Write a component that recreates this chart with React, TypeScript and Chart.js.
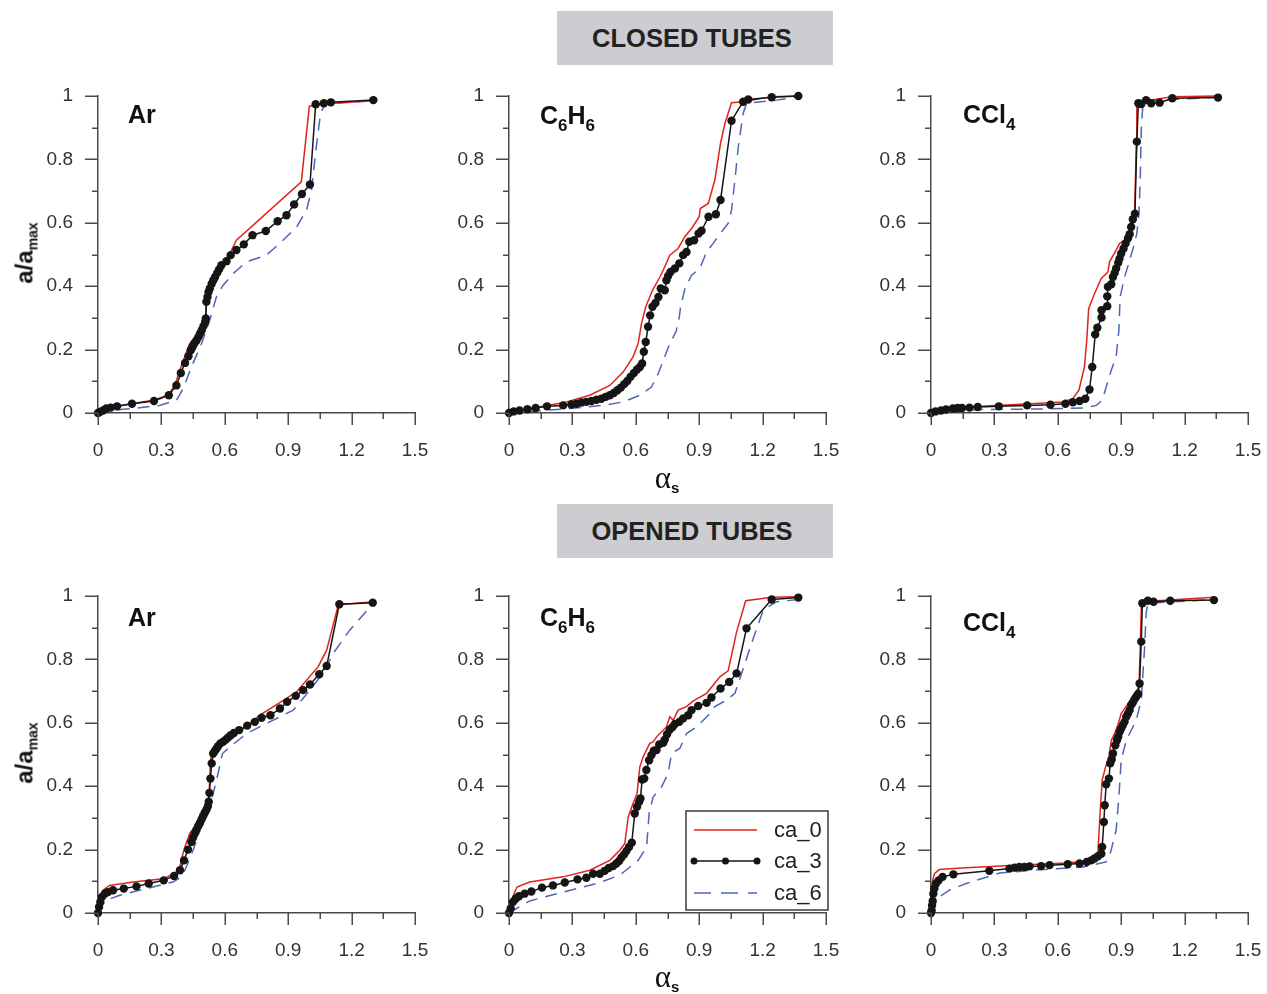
import React, { useEffect, useRef } from "react";
import { Chart, registerables } from "chart.js";
Chart.register(...registerables);

type Pt = [number, number];

// ---------- tick labels / names ----------
const xTickLabels = ["0", "0.3", "0.6", "0.9", "1.2", "1.5"];
const yTickLabels = ["0", "0.2", "0.4", "0.6", "0.8", "1"];
const seriesNames = ["ca_0", "ca_3", "ca_6"];

// ---------- CLOSED TUBES: Ar ----------
const closedAr_ca0: Pt[] = [[0,0],[0.024,0.014],[0.087,0.021],[0.26,0.04],[0.332,0.056],[0.363,0.087],[0.395,0.15],[0.434,0.219],[0.466,0.245],[0.5,0.282],[0.508,0.3],[0.513,0.345],[0.53,0.39],[0.555,0.43],[0.584,0.468],[0.624,0.503],[0.655,0.545],[0.962,0.729],[1.0,0.968],[1.113,0.977],[1.303,0.985]];
const closedAr_ca3: Pt[] = [[0,0],[0.008,0.003],[0.024,0.008],[0.039,0.014],[0.06,0.017],[0.09,0.021],[0.161,0.029],[0.265,0.038],[0.335,0.056],[0.371,0.087],[0.392,0.126],[0.412,0.158],[0.428,0.179],[0.439,0.198],[0.447,0.208],[0.456,0.219],[0.466,0.229],[0.475,0.24],[0.483,0.251],[0.491,0.261],[0.499,0.274],[0.507,0.287],[0.51,0.298],[0.513,0.351],[0.518,0.366],[0.523,0.382],[0.529,0.393],[0.538,0.408],[0.546,0.419],[0.554,0.429],[0.564,0.442],[0.573,0.453],[0.584,0.466],[0.608,0.479],[0.628,0.498],[0.655,0.514],[0.69,0.532],[0.731,0.561],[0.794,0.574],[0.85,0.605],[0.892,0.624],[0.928,0.658],[0.965,0.691],[1.003,0.721],[1.03,0.974],[1.069,0.977],[1.102,0.98],[1.303,0.987]];
const closedAr_ca6: Pt[] = [[0,0],[0.055,0.008],[0.166,0.014],[0.292,0.024],[0.371,0.04],[0.403,0.077],[0.442,0.145],[0.49,0.219],[0.529,0.293],[0.56,0.366],[0.592,0.403],[0.64,0.44],[0.703,0.477],[0.797,0.498],[0.86,0.535],[0.94,0.587],[0.987,0.64],[1.01,0.703],[1.031,0.829],[1.053,0.945],[1.074,0.975],[1.303,0.985]];

// ---------- CLOSED TUBES: C6H6 ----------
const closedC6H6_ca0: Pt[] = [[0,0],[0.098,0.014],[0.256,0.032],[0.382,0.056],[0.477,0.087],[0.54,0.129],[0.587,0.177],[0.611,0.219],[0.627,0.282],[0.647,0.335],[0.679,0.387],[0.714,0.429],[0.73,0.451],[0.761,0.498],[0.8,0.519],[0.832,0.556],[0.864,0.582],[0.9,0.619],[0.905,0.645],[0.943,0.661],[0.974,0.735],[1.001,0.851],[1.022,0.914],[1.053,0.979],[1.108,0.982],[1.243,0.998],[1.369,1.0]];
const closedC6H6_ca3: Pt[] = [[0,0],[0.022,0.005],[0.05,0.008],[0.087,0.012],[0.126,0.016],[0.18,0.021],[0.256,0.024],[0.295,0.027],[0.319,0.029],[0.343,0.033],[0.366,0.035],[0.39,0.038],[0.414,0.042],[0.437,0.045],[0.458,0.051],[0.477,0.056],[0.496,0.063],[0.513,0.072],[0.529,0.08],[0.545,0.091],[0.56,0.101],[0.575,0.114],[0.591,0.126],[0.606,0.137],[0.619,0.145],[0.63,0.156],[0.638,0.193],[0.647,0.224],[0.658,0.272],[0.668,0.308],[0.679,0.335],[0.693,0.347],[0.707,0.366],[0.718,0.393],[0.737,0.387],[0.745,0.419],[0.753,0.432],[0.764,0.445],[0.785,0.456],[0.806,0.472],[0.824,0.498],[0.84,0.508],[0.853,0.54],[0.876,0.545],[0.897,0.566],[0.911,0.575],[0.944,0.619],[0.979,0.627],[1.001,0.672],[1.053,0.922],[1.108,0.982],[1.132,0.989],[1.243,0.996],[1.369,1.0]];
const closedC6H6_ca6: Pt[] = [[0,0],[0.098,0.005],[0.287,0.014],[0.445,0.024],[0.54,0.035],[0.619,0.056],[0.674,0.082],[0.706,0.124],[0.73,0.166],[0.761,0.219],[0.79,0.256],[0.806,0.303],[0.812,0.335],[0.833,0.393],[0.864,0.435],[0.903,0.456],[0.935,0.508],[0.966,0.535],[1.006,0.572],[1.037,0.598],[1.053,0.64],[1.069,0.735],[1.085,0.84],[1.108,0.945],[1.124,0.977],[1.266,0.987],[1.369,0.998]];

// ---------- CLOSED TUBES: CCl4 ----------
const closedCCl4_ca0: Pt[] = [[0,0],[0.166,0.019],[0.403,0.027],[0.624,0.035],[0.671,0.045],[0.7,0.072],[0.726,0.145],[0.737,0.229],[0.746,0.329],[0.774,0.377],[0.805,0.424],[0.837,0.445],[0.845,0.477],[0.876,0.514],[0.892,0.535],[0.916,0.545],[0.94,0.566],[0.963,0.608],[0.971,0.84],[0.974,0.985],[1.034,0.987],[1.142,0.998],[1.358,1.0]];
const closedCCl4_ca3: Pt[] = [[0,0],[0.021,0.005],[0.047,0.008],[0.071,0.011],[0.103,0.014],[0.126,0.016],[0.147,0.016],[0.182,0.017],[0.221,0.019],[0.321,0.021],[0.455,0.024],[0.565,0.026],[0.636,0.029],[0.671,0.034],[0.703,0.038],[0.73,0.045],[0.75,0.074],[0.763,0.145],[0.777,0.248],[0.787,0.269],[0.807,0.301],[0.807,0.324],[0.834,0.337],[0.834,0.368],[0.837,0.398],[0.853,0.406],[0.861,0.429],[0.869,0.442],[0.876,0.456],[0.886,0.474],[0.892,0.487],[0.9,0.503],[0.911,0.519],[0.921,0.535],[0.932,0.551],[0.94,0.564],[0.947,0.587],[0.955,0.611],[0.965,0.629],[0.974,0.856],[0.981,0.977],[0.995,0.975],[1.018,0.987],[1.042,0.977],[1.082,0.979],[1.142,0.993],[1.358,0.995]];
const closedCCl4_ca6: Pt[] = [[0,0],[0.087,0.006],[0.245,0.011],[0.403,0.012],[0.56,0.013],[0.718,0.016],[0.782,0.024],[0.81,0.04],[0.829,0.082],[0.853,0.135],[0.876,0.177],[0.889,0.261],[0.895,0.366],[0.916,0.429],[0.94,0.482],[0.958,0.524],[0.974,0.566],[0.984,0.629],[0.99,0.735],[0.995,0.893],[1.003,0.977],[1.034,0.985],[1.358,0.996]];

// ---------- OPENED TUBES: Ar ----------
const openedAr_ca0: Pt[] = [[0,0],[0.008,0.029],[0.024,0.072],[0.055,0.087],[0.166,0.098],[0.308,0.108],[0.363,0.124],[0.387,0.145],[0.406,0.198],[0.434,0.251],[0.482,0.293],[0.516,0.329],[0.526,0.377],[0.532,0.482],[0.545,0.514],[0.576,0.529],[0.64,0.556],[0.766,0.624],[0.892,0.677],[0.94,0.698],[1.042,0.777],[1.082,0.829],[1.137,0.972],[1.3,0.982]];
const openedAr_ca3: Pt[] = [[0,0],[0.005,0.019],[0.011,0.035],[0.019,0.051],[0.032,0.061],[0.047,0.066],[0.071,0.072],[0.122,0.077],[0.182,0.084],[0.24,0.093],[0.311,0.103],[0.36,0.117],[0.388,0.135],[0.407,0.166],[0.426,0.2],[0.442,0.224],[0.45,0.238],[0.458,0.251],[0.466,0.263],[0.474,0.274],[0.482,0.284],[0.49,0.295],[0.497,0.305],[0.505,0.316],[0.513,0.326],[0.52,0.337],[0.524,0.351],[0.527,0.379],[0.532,0.424],[0.538,0.472],[0.545,0.503],[0.553,0.511],[0.561,0.519],[0.568,0.526],[0.579,0.535],[0.592,0.54],[0.605,0.547],[0.616,0.554],[0.628,0.561],[0.643,0.568],[0.668,0.577],[0.706,0.591],[0.742,0.603],[0.774,0.616],[0.816,0.624],[0.861,0.645],[0.895,0.666],[0.936,0.685],[0.971,0.703],[1.003,0.721],[1.047,0.753],[1.082,0.779],[1.142,0.974],[1.3,0.979]];
const openedAr_ca6: Pt[] = [[0,0],[0.008,0.014],[0.039,0.04],[0.103,0.056],[0.229,0.077],[0.355,0.098],[0.395,0.114],[0.418,0.145],[0.45,0.198],[0.482,0.261],[0.521,0.314],[0.545,0.377],[0.568,0.44],[0.589,0.503],[0.624,0.524],[0.703,0.566],[0.797,0.598],[0.924,0.64],[1.003,0.703],[1.074,0.766],[1.113,0.819],[1.192,0.893],[1.3,0.975]];

// ---------- OPENED TUBES: C6H6 ----------
const openedC6H6_ca0: Pt[] = [[0,0],[0.011,0.04],[0.038,0.082],[0.098,0.098],[0.256,0.114],[0.382,0.135],[0.477,0.166],[0.524,0.198],[0.548,0.219],[0.564,0.303],[0.587,0.345],[0.606,0.377],[0.619,0.461],[0.635,0.493],[0.666,0.535],[0.682,0.54],[0.701,0.558],[0.745,0.587],[0.761,0.619],[0.777,0.608],[0.8,0.64],[0.84,0.651],[0.872,0.669],[0.935,0.693],[0.998,0.745],[1.037,0.764],[1.077,0.887],[1.12,0.985],[1.243,0.996],[1.369,0.998]];
const openedC6H6_ca3: Pt[] = [[0,0],[0.008,0.014],[0.019,0.035],[0.032,0.045],[0.047,0.053],[0.074,0.061],[0.106,0.068],[0.156,0.08],[0.208,0.087],[0.264,0.096],[0.324,0.106],[0.366,0.111],[0.398,0.124],[0.43,0.124],[0.453,0.133],[0.472,0.142],[0.493,0.148],[0.508,0.156],[0.521,0.164],[0.532,0.175],[0.545,0.185],[0.556,0.196],[0.568,0.208],[0.581,0.222],[0.595,0.314],[0.606,0.335],[0.616,0.351],[0.622,0.361],[0.63,0.421],[0.64,0.424],[0.65,0.451],[0.663,0.482],[0.674,0.498],[0.685,0.512],[0.698,0.514],[0.711,0.532],[0.73,0.537],[0.737,0.547],[0.748,0.564],[0.761,0.579],[0.774,0.587],[0.785,0.596],[0.806,0.603],[0.824,0.614],[0.848,0.624],[0.864,0.64],[0.895,0.653],[0.935,0.663],[0.958,0.68],[1.001,0.708],[1.042,0.729],[1.077,0.756],[1.124,0.898],[1.243,0.989],[1.369,0.995]];
const openedC6H6_ca6: Pt[] = [[0,0],[0.035,0.014],[0.098,0.038],[0.256,0.066],[0.414,0.093],[0.524,0.119],[0.572,0.145],[0.611,0.166],[0.651,0.208],[0.663,0.314],[0.682,0.366],[0.722,0.398],[0.753,0.44],[0.769,0.503],[0.808,0.519],[0.84,0.566],[0.887,0.587],[0.943,0.624],[0.974,0.651],[1.03,0.672],[1.069,0.693],[1.101,0.756],[1.148,0.851],[1.203,0.956],[1.266,0.982],[1.369,0.989]];

// ---------- OPENED TUBES: CCl4 ----------
const openedCCl4_ca0: Pt[] = [[0,0],[0.005,0.093],[0.016,0.124],[0.039,0.137],[0.166,0.143],[0.403,0.151],[0.64,0.158],[0.766,0.166],[0.79,0.192],[0.8,0.314],[0.81,0.419],[0.826,0.461],[0.842,0.493],[0.853,0.545],[0.869,0.566],[0.884,0.593],[0.9,0.629],[0.955,0.682],[0.984,0.714],[0.99,0.84],[0.996,0.982],[1.339,0.996]];
const openedCCl4_ca3: Pt[] = [[0,0],[0.003,0.008],[0.005,0.024],[0.008,0.038],[0.011,0.061],[0.016,0.077],[0.024,0.093],[0.036,0.103],[0.055,0.114],[0.106,0.122],[0.276,0.133],[0.371,0.14],[0.395,0.143],[0.418,0.145],[0.442,0.145],[0.466,0.147],[0.521,0.148],[0.561,0.151],[0.647,0.154],[0.703,0.156],[0.737,0.161],[0.758,0.166],[0.774,0.172],[0.79,0.179],[0.806,0.187],[0.81,0.208],[0.818,0.287],[0.822,0.34],[0.829,0.406],[0.842,0.424],[0.848,0.472],[0.855,0.484],[0.861,0.503],[0.872,0.529],[0.88,0.545],[0.886,0.556],[0.893,0.572],[0.9,0.582],[0.908,0.593],[0.916,0.603],[0.924,0.619],[0.932,0.629],[0.94,0.64],[0.947,0.656],[0.955,0.664],[0.963,0.674],[0.971,0.682],[0.98,0.691],[0.987,0.724],[0.995,0.856],[1.0,0.977],[1.026,0.985],[1.053,0.982],[1.132,0.985],[1.339,0.987]];
const openedCCl4_ca6: Pt[] = [[0,0],[0.016,0.024],[0.039,0.051],[0.087,0.072],[0.166,0.093],[0.324,0.126],[0.482,0.135],[0.718,0.145],[0.829,0.161],[0.848,0.187],[0.876,0.261],[0.889,0.366],[0.9,0.482],[0.924,0.545],[0.971,0.608],[0.995,0.672],[1.011,0.84],[1.018,0.945],[1.026,0.977],[1.339,0.989]];

// ---------- layout / style constants ----------
const FONT = '"Liberation Sans", Arial, Helvetica, sans-serif';
const PLOT_W = 317;
const PLOT_H = 317;
const PAD_L = 70;
const PAD_T = 20;
const PAD_R = 30;
const PAD_B = 50;
const CANVAS_W = PAD_L + PLOT_W + PAD_R;
const CANVAS_H = PAD_T + PLOT_H + PAD_B;
const COL_LEFT = [98, 509, 931];
const ROW_TOP = [96, 596];
const AXIS_COLOR = "#4a4a4a";
const RED = "#e2231a";
const BLACK = "#151515";
const BLUE = "#4d66b6";
const DASH = [12, 8];

const axisTicksPlugin = {
  id: "axisTicks",
  afterDraw(chart: any) {
    const { ctx, chartArea: a, scales } = chart;
    ctx.save();
    ctx.strokeStyle = AXIS_COLOR;
    ctx.lineWidth = 1.5;
    for (let i = 0; i <= 10; i++) {
      const y = Math.round(scales.y.getPixelForValue(i / 10)) + 0.25;
      const len = i % 2 === 0 ? 13 : 6;
      ctx.beginPath();
      ctx.moveTo(a.left - len, y);
      ctx.lineTo(a.left, y);
      ctx.stroke();
    }
    for (let i = 0; i <= 10; i++) {
      const x = Math.round(scales.x.getPixelForValue(i * 0.15)) + 0.25;
      const len = i % 2 === 0 ? 12 : 6;
      ctx.beginPath();
      ctx.moveTo(x, a.bottom);
      ctx.lineTo(x, a.bottom + len);
      ctx.stroke();
    }
    ctx.restore();
  },
};

const legendPlugin = {
  id: "cornerLegend",
  afterDraw(chart: any) {
    const opts = chart.options.plugins.cornerLegend;
    if (!opts || !opts.show) return;
    const { ctx, chartArea: a } = chart;
    const bx = a.right - 140;
    const by = a.bottom - 102;
    const bw = 142;
    const bh = 99;
    ctx.save();
    ctx.fillStyle = "#ffffff";
    ctx.fillRect(bx, by, bw, bh);
    ctx.strokeStyle = "#3a3a3a";
    ctx.lineWidth = 1.5;
    ctx.strokeRect(bx, by, bw, bh);
    const rows = [by + 19, by + 50, by + 82];
    const x0 = bx + 8;
    const x1 = bx + 71;
    ctx.strokeStyle = RED;
    ctx.lineWidth = 1.5;
    ctx.beginPath();
    ctx.moveTo(x0, rows[0]);
    ctx.lineTo(x1, rows[0]);
    ctx.stroke();
    ctx.strokeStyle = BLACK;
    ctx.beginPath();
    ctx.moveTo(x0, rows[1]);
    ctx.lineTo(x1, rows[1]);
    ctx.stroke();
    ctx.fillStyle = BLACK;
    [x0, (x0 + x1) / 2, x1].forEach((px) => {
      ctx.beginPath();
      ctx.arc(px, rows[1], 3.5, 0, Math.PI * 2);
      ctx.fill();
    });
    ctx.strokeStyle = BLUE;
    ctx.setLineDash([17, 10]);
    ctx.beginPath();
    ctx.moveTo(x0, rows[2]);
    ctx.lineTo(x1, rows[2]);
    ctx.stroke();
    ctx.setLineDash([]);
    ctx.fillStyle = "#222";
    ctx.font = `22px ${FONT}`;
    ctx.textBaseline = "middle";
    ctx.textAlign = "left";
    seriesNames.forEach((n, i) => ctx.fillText(n, bx + 88, rows[i] + 1));
    ctx.restore();
  },
};

function toXY(pts: Pt[]) {
  return pts.map(([x, y]) => ({ x, y }));
}

type PanelProps = {
  left: number;
  top: number;
  ca0: Pt[];
  ca3: Pt[];
  ca6: Pt[];
  legend?: boolean;
};

function Panel({ left, top, ca0, ca3, ca6, legend }: PanelProps) {
  const ref = useRef<HTMLCanvasElement>(null);
  useEffect(() => {
    if (!ref.current) return;
    const tickFont = { family: FONT, size: 19 };
    const chart = new Chart(ref.current, {
      type: "line",
      data: {
        datasets: [
          {
            label: seriesNames[1],
            data: toXY(ca3),
            borderColor: BLACK,
            backgroundColor: BLACK,
            borderWidth: 1.5,
            pointRadius: 4.2,
            pointBorderWidth: 0,
            pointBackgroundColor: BLACK,
            tension: 0,
            clip: false,
            order: 1,
          },
          {
            label: seriesNames[0],
            data: toXY(ca0),
            borderColor: RED,
            borderWidth: 1.5,
            pointRadius: 0,
            tension: 0,
            clip: false,
            order: 2,
          },
          {
            label: seriesNames[2],
            data: toXY(ca6),
            borderColor: BLUE,
            borderWidth: 1.5,
            borderDash: DASH,
            pointRadius: 0,
            tension: 0,
            clip: false,
            order: 3,
          },
        ] as any,
      },
      options: {
        responsive: false,
        animation: false,
        events: [],
        layout: { autoPadding: false, padding: { top: PAD_T, right: PAD_R, left: 0, bottom: 0 } },
        plugins: {
          legend: { display: false },
          tooltip: { enabled: false },
          cornerLegend: { show: !!legend },
        } as any,
        scales: {
          x: {
            type: "linear",
            min: 0,
            max: 1.5,
            afterFit: (s: any) => {
              s.height = PAD_B;
              s.paddingLeft = 0;
              s.paddingRight = 0;
            },
            grid: { display: false, drawTicks: false },
            border: { display: true, color: AXIS_COLOR, width: 1.5 },
            ticks: {
              stepSize: 0.3,
              autoSkip: false,
              maxRotation: 0,
              padding: 26,
              color: "#333",
              font: tickFont,
              callback: (v: any) => xTickLabels[Math.round(Number(v) / 0.3)] ?? "",
            },
          },
          y: {
            type: "linear",
            min: 0,
            max: 1,
            afterFit: (s: any) => {
              s.width = PAD_L;
              s.paddingTop = 0;
              s.paddingBottom = 0;
            },
            grid: { display: false, drawTicks: false },
            border: { display: true, color: AXIS_COLOR, width: 1.5 },
            ticks: {
              stepSize: 0.2,
              autoSkip: false,
              padding: 25,
              color: "#333",
              font: tickFont,
              callback: (v: any) => yTickLabels[Math.round(Number(v) / 0.2)] ?? "",
            },
          },
        },
      } as any,
      plugins: [axisTicksPlugin, legendPlugin],
    });
    return () => chart.destroy();
  }, []);
  return (
    <canvas
      ref={ref}
      width={CANVAS_W}
      height={CANVAS_H}
      style={{
        position: "absolute",
        left: left - PAD_L,
        top: top - PAD_T,
        width: CANVAS_W,
        height: CANVAS_H,
      }}
    />
  );
}

const subStyle: React.CSSProperties = {
  fontSize: 17,
  position: "relative",
  top: 7,
};

function Title({ left, top, children }: { left: number; top: number; children: React.ReactNode }) {
  return (
    <div
      style={{
        position: "absolute",
        left,
        top,
        font: `bold 25px ${FONT}`,
        lineHeight: "25px",
        color: "#111",
        whiteSpace: "nowrap",
      }}
    >
      {children}
    </div>
  );
}

function Header({ top, text }: { top: number; text: string }) {
  return (
    <div
      style={{
        position: "absolute",
        left: 557,
        top,
        width: 276,
        height: 54,
        background: "#cdcdd1",
        display: "flex",
        alignItems: "center",
        justifyContent: "center",
        paddingRight: 6,
        boxSizing: "border-box",
        font: `bold 25.5px ${FONT}`,
        color: "#222",
        whiteSpace: "nowrap",
      }}
    >
      {text}
    </div>
  );
}

function YTitle({ cy }: { cy: number }) {
  return (
    <div
      style={{
        position: "absolute",
        left: 26,
        top: cy,
        transform: "translate(-50%, -50%) rotate(-90deg)",
        font: `bold 24px ${FONT}`,
        color: "#111",
        whiteSpace: "nowrap",
        lineHeight: "24px",
      }}
    >
      a/a<span style={{ fontSize: 14, position: "relative", top: 5 }}>max</span>
    </div>
  );
}

function XTitle({ cy }: { cy: number }) {
  return (
    <div
      style={{
        position: "absolute",
        left: 667,
        top: cy,
        transform: "translate(-50%, -50%)",
        whiteSpace: "nowrap",
        color: "#111",
        lineHeight: "30px",
      }}
    >
      <span style={{ font: `31px "Liberation Serif", "DejaVu Serif", serif` }}>α</span>
      <span style={{ font: `bold 15px ${FONT}`, position: "relative", top: 5 }}>s</span>
    </div>
  );
}

export default function App() {
  return (
    <div
      style={{
        position: "absolute",
        left: 0,
        top: 0,
        width: 1267,
        height: 994,
        background: "#ffffff",
        overflow: "hidden",
      }}
    >
      <Header top={11} text="CLOSED TUBES" />
      <Header top={504} text="OPENED TUBES" />

      <Panel left={COL_LEFT[0]} top={ROW_TOP[0]} ca0={closedAr_ca0} ca3={closedAr_ca3} ca6={closedAr_ca6} />
      <Panel left={COL_LEFT[1]} top={ROW_TOP[0]} ca0={closedC6H6_ca0} ca3={closedC6H6_ca3} ca6={closedC6H6_ca6} />
      <Panel left={COL_LEFT[2]} top={ROW_TOP[0]} ca0={closedCCl4_ca0} ca3={closedCCl4_ca3} ca6={closedCCl4_ca6} />
      <Panel left={COL_LEFT[0]} top={ROW_TOP[1]} ca0={openedAr_ca0} ca3={openedAr_ca3} ca6={openedAr_ca6} />
      <Panel left={COL_LEFT[1]} top={ROW_TOP[1]} ca0={openedC6H6_ca0} ca3={openedC6H6_ca3} ca6={openedC6H6_ca6} legend />
      <Panel left={COL_LEFT[2]} top={ROW_TOP[1]} ca0={openedCCl4_ca0} ca3={openedCCl4_ca3} ca6={openedCCl4_ca6} />

      <Title left={128} top={102}>Ar</Title>
      <Title left={540} top={103}>C<span style={subStyle}>6</span>H<span style={subStyle}>6</span></Title>
      <Title left={963} top={102}>CCl<span style={subStyle}>4</span></Title>
      <Title left={128} top={605}>Ar</Title>
      <Title left={540} top={605}>C<span style={subStyle}>6</span>H<span style={subStyle}>6</span></Title>
      <Title left={963} top={610}>CCl<span style={subStyle}>4</span></Title>

      <YTitle cy={253} />
      <YTitle cy={753} />
      <XTitle cy={479} />
      <XTitle cy={978} />
    </div>
  );
}
